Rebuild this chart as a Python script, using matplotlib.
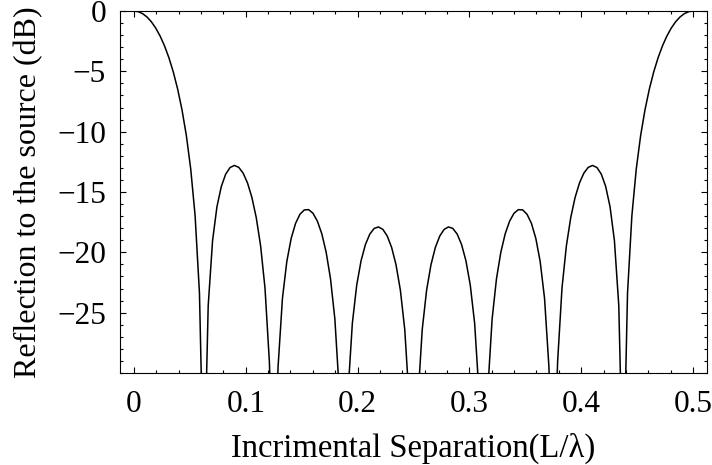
import numpy as np
import matplotlib
matplotlib.use("Agg")
import matplotlib.pyplot as plt
from matplotlib.ticker import MultipleLocator

# Nulls drop below the plotted range, so they are stored as -40 (off-chart).
separation = np.linspace(0.0, 0.5, 129)
reflection_db = [
    0.0, -0.055, -0.221, -0.500, -0.898, -1.421, -2.080, -2.889, -3.867,
    -5.044, -6.461, -8.186, -10.328, -13.097, -16.955, -23.380, -40.0,
    -24.411, -19.025, -16.224, -14.540, -13.520, -12.971, -12.798, -12.957,
    -13.437, -14.250, -15.446, -17.119, -19.467, -22.947, -29.028, -40.0,
    -29.454, -23.800, -20.751, -18.836, -17.599, -16.846, -16.482, -16.459,
    -16.766, -17.417, -18.455, -19.981, -22.186, -25.528, -31.478, -40.0,
    -31.654, -25.882, -22.717, -20.690, -19.345, -18.486, -18.017, -17.893,
    -18.102, -18.655, -19.599, -21.030, -23.143, -26.395, -32.254, -40.0,
    -32.254, -26.395, -23.143, -21.030, -19.599, -18.655, -18.102, -17.893,
    -18.017, -18.486, -19.345, -20.690, -22.717, -25.882, -31.654, -40.0,
    -31.478, -25.528, -22.186, -19.981, -18.455, -17.417, -16.766, -16.459,
    -16.482, -16.846, -17.599, -18.836, -20.751, -23.800, -29.454, -40.0,
    -29.028, -22.947, -19.467, -17.119, -15.446, -14.250, -13.437, -12.957,
    -12.798, -12.971, -13.520, -14.540, -16.224, -19.025, -24.411, -40.0,
    -23.380, -16.955, -13.097, -10.328, -8.186, -6.461, -5.044, -3.867,
    -2.889, -2.080, -1.421, -0.898, -0.500, -0.221, -0.055, 0.0,
]

x_ticks = [0, 0.1, 0.2, 0.3, 0.4, 0.5]
x_tick_labels = ['0', '0.1', '0.2', '0.3', '0.4', '0.5']
y_ticks = [0, -5, -10, -15, -20, -25]
y_tick_labels = ['0', '\u22125', '\u221210', '\u221215', '\u221220', '\u221225']

plt.rcParams['font.family'] = ['Liberation Serif', 'DejaVu Serif']

fig, ax = plt.subplots(figsize=(7.12, 4.65), dpi=100)
fig.subplots_adjust(left=0.1685, right=0.993, top=0.9763, bottom=0.1978)

ax.plot(separation, reflection_db, color='black', linewidth=1.1)

ax.set_xlim(-0.0125, 0.5125)
ax.set_ylim(-30, 0)

ax.set_xticks(x_ticks)
ax.set_xticklabels(x_tick_labels)
ax.set_yticks(y_ticks)
ax.set_yticklabels(y_tick_labels)
ax.xaxis.set_minor_locator(MultipleLocator(0.02))
ax.yaxis.set_minor_locator(MultipleLocator(1))

# Mathematica-style frame: ticks inside on all four sides
ax.tick_params(which='both', direction='in', top=True, right=True,
               labelsize=22.5, width=0.8)
ax.tick_params(axis='x', which='major', length=4.5, pad=12)
ax.tick_params(axis='y', which='major', length=4.5, pad=10)
ax.tick_params(which='minor', length=2.5)
for spine in ax.spines.values():
    spine.set_linewidth(0.8)

ax.set_xlabel('Incrimental Separation(L/\u03bb)', fontsize=23.5, labelpad=10)
ax.set_ylabel('Reflection to the source (dB)', fontsize=23, labelpad=10)

fig.savefig('out.png', dpi=100)
